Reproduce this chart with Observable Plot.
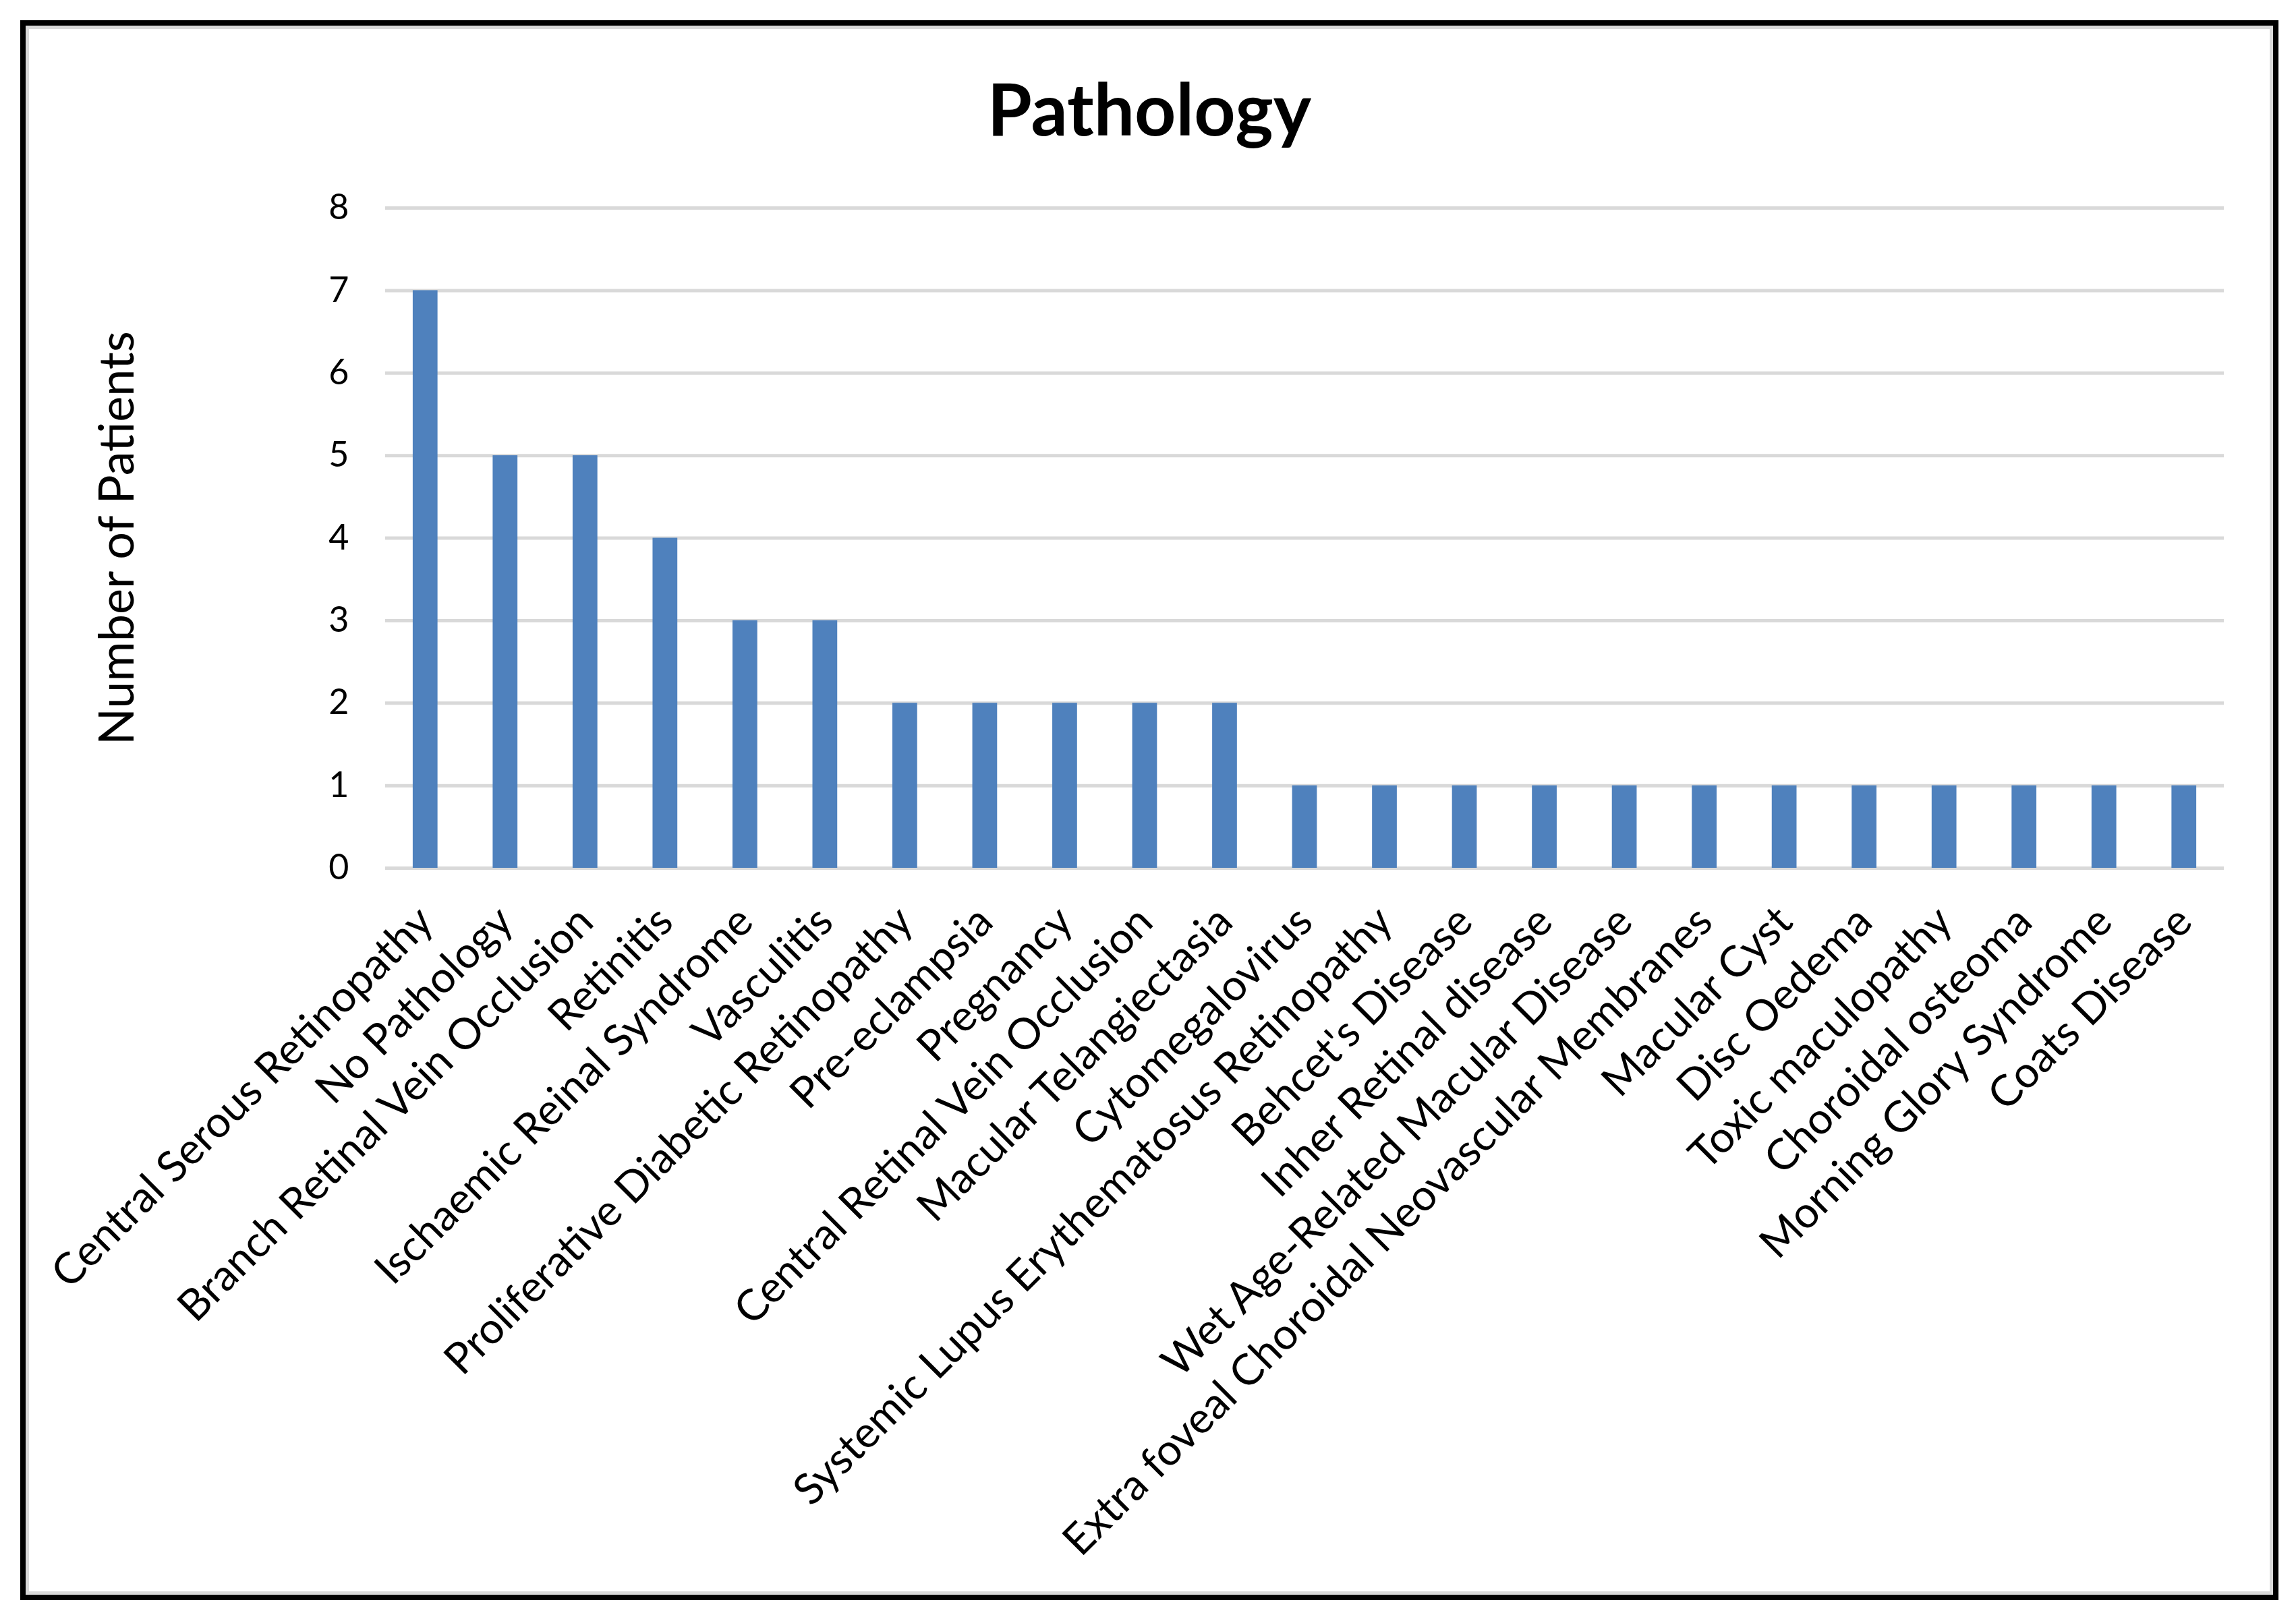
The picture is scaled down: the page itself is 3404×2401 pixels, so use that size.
<!DOCTYPE html>
<html>
<head>
<meta charset="utf-8">
<script src="https://cdn.jsdelivr.net/npm/d3@7"></script>
<script src="https://cdn.jsdelivr.net/npm/@observablehq/plot@0.6"></script>
<style>
  html, body { margin: 0; padding: 0; background: #fff; }
  body { width: 3404px; height: 2401px; position: relative; overflow: hidden; font-family: Lato, "Open Sans", sans-serif; }
  #frame { position: absolute; left: 30px; top: 30px; width: 3348px; height: 2343px; box-sizing: border-box;
           border: 8px solid #000; box-shadow: inset 0 0 0 5px #d9d9d9; }
  #title { position: absolute; left: 30px; width: 3348px; top: 106px; text-align: center;
           font: bold 107px Lato, sans-serif; line-height: 1; color: #000; margin: 0; }
  #chart { position: absolute; left: 0; top: 240px; }
</style>
</head>
<body>
<div id="frame"></div>
<h1 id="title">Pathology</h1>
<div id="chart"></div>
<script>
const categories = [
  "Central Serous Retinopathy",
  "No Pathology",
  "Branch Retinal Vein Occlusion",
  "Retinitis",
  "Ischaemic Reinal Syndrome",
  "Vasculitis",
  "Proliferative Diabetic Retinopathy",
  "Pre-eclampsia",
  "Pregnancy",
  "Central Retinal Vein Occlusion",
  "Macular Telangiectasia",
  "Cytomegalovirus",
  "Systemic Lupus Erythematosus Retinopathy",
  "Behcet's Disease",
  "Inher Retinal disease",
  "Wet Age-Related Macular Disease",
  "Extra foveal Choroidal Neovascular Membranes",
  "Macular Cyst",
  "Disc Oedema",
  "Toxic maculopathy",
  "Choroidal osteoma",
  "Morning Glory Syndrome",
  "Coats Disease"
];
const patients = [7, 5, 5, 4, 3, 3, 2, 2, 2, 2, 2, 1, 1, 1, 1, 1, 1, 1, 1, 1, 1, 1, 1];
const yTicks = [0, 1, 2, 3, 4, 5, 6, 7, 8];
const yLabel = "Number of Patients";

const data = categories.map((name, i) => ({name, count: patients[i]}));

const chart = Plot.plot({
  width: 3404,
  height: 2110,
  marginTop: 68,
  marginBottom: 1063,
  marginLeft: 571,
  marginRight: 107,
  style: {fontFamily: "Lato, sans-serif", fontSize: "64px", color: "#000", background: "transparent", overflow: "visible"},
  x: {domain: categories, paddingInner: 0.69, paddingOuter: 0.345, round: false, label: null},
  y: {domain: [0, 8], label: null},
  marks: [
    Plot.gridY(yTicks, {stroke: "#d9d9d9", strokeOpacity: 1, strokeWidth: 5}),
    Plot.barY(data, {x: "name", y: "count", fill: "#4f81bd"}),
    Plot.axisY(yTicks, {tickSize: 0, tickPadding: 54, fontSize: 52, tickFormat: d => String(d), label: null}),
    Plot.axisX({tickSize: 0, tickRotate: -45, tickPadding: 51, dx: -17, textAnchor: "end", lineAnchor: "top", fontSize: 64, label: null}),
    Plot.text([yLabel], {text: d => d, frameAnchor: "left", dx: -374, rotate: -90, lineAnchor: "bottom", textAnchor: "middle", fontSize: 72, fill: "#000"})
  ]
});
document.getElementById("chart").appendChild(chart);
</script>
</body>
</html>
